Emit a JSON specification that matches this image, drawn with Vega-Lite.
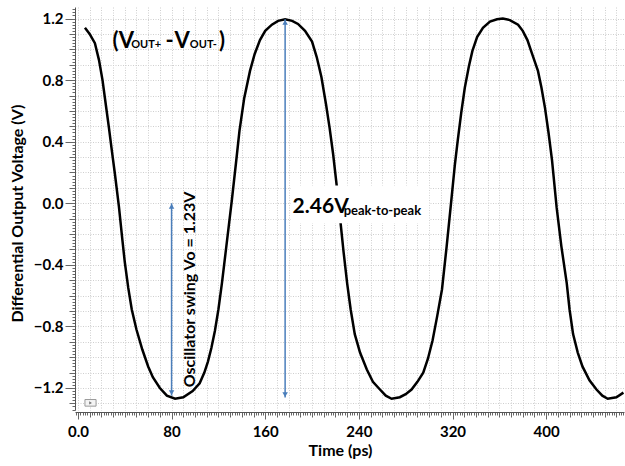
{
  "$schema": "https://vega.github.io/schema/vega-lite/v6.json",
  "width": 549,
  "height": 403,
  "autosize": {"type": "none"},
  "padding": {"left": 75, "top": 7, "right": 1, "bottom": 56},
  "background": "white",
  "config": {
    "view": {"stroke": null},
    "font": "Lato",
    "axis": {
      "labelFont": "Lato", "titleFont": "Lato",
      "labelFontWeight": "bold", "titleFontWeight": "bold",
      "labelColor": "#000", "titleColor": "#000",
      "domainColor": "#555", "tickColor": "#666"
    }
  },
  "datasets": {
    "curve": [
      {"t": 6, "v": 1.14}, {"t": 10, "v": 1.10}, {"t": 14.5, "v": 1.04}, {"t": 18, "v": 0.93},
      {"t": 21, "v": 0.80}, {"t": 24, "v": 0.63}, {"t": 26.5, "v": 0.49}, {"t": 29, "v": 0.34},
      {"t": 31.6, "v": 0.19}, {"t": 35, "v": -0.02}, {"t": 38, "v": -0.24}, {"t": 40, "v": -0.38},
      {"t": 43, "v": -0.55}, {"t": 46, "v": -0.69}, {"t": 50, "v": -0.82}, {"t": 55, "v": -0.95},
      {"t": 60, "v": -1.06}, {"t": 64, "v": -1.13}, {"t": 70, "v": -1.20}, {"t": 76, "v": -1.25},
      {"t": 83, "v": -1.27}, {"t": 90, "v": -1.26}, {"t": 98, "v": -1.22}, {"t": 104, "v": -1.17},
      {"t": 108, "v": -1.10}, {"t": 111, "v": -1.03}, {"t": 114, "v": -0.94}, {"t": 117, "v": -0.83},
      {"t": 120, "v": -0.69}, {"t": 123, "v": -0.52}, {"t": 126, "v": -0.33},
      {"t": 131.5, "v": 0.02}, {"t": 135, "v": 0.26}, {"t": 138, "v": 0.47}, {"t": 142, "v": 0.68},
      {"t": 147, "v": 0.86}, {"t": 151, "v": 0.97}, {"t": 155.5, "v": 1.06}, {"t": 160, "v": 1.12},
      {"t": 165.7, "v": 1.16}, {"t": 171, "v": 1.185}, {"t": 177, "v": 1.195}, {"t": 183, "v": 1.185},
      {"t": 188, "v": 1.165}, {"t": 194, "v": 1.12}, {"t": 200, "v": 1.05}, {"t": 204, "v": 0.95},
      {"t": 208, "v": 0.82}, {"t": 212, "v": 0.64}, {"t": 215, "v": 0.49}, {"t": 218, "v": 0.32},
      {"t": 221, "v": 0.12}, {"t": 224, "v": -0.10}, {"t": 227, "v": -0.32}, {"t": 230, "v": -0.52},
      {"t": 233, "v": -0.69}, {"t": 236.5, "v": -0.85}, {"t": 241, "v": -0.97}, {"t": 246.8, "v": -1.08},
      {"t": 252, "v": -1.16}, {"t": 258, "v": -1.21}, {"t": 263, "v": -1.25}, {"t": 268, "v": -1.27},
      {"t": 275, "v": -1.26}, {"t": 280, "v": -1.24}, {"t": 285, "v": -1.21}, {"t": 290, "v": -1.16},
      {"t": 295, "v": -1.10}, {"t": 299, "v": -1.01}, {"t": 303, "v": -0.89}, {"t": 307, "v": -0.73},
      {"t": 311, "v": -0.56}, {"t": 315, "v": -0.28}, {"t": 319, "v": 0.02}, {"t": 322, "v": 0.25},
      {"t": 324.5, "v": 0.41}, {"t": 327.5, "v": 0.59}, {"t": 330.5, "v": 0.75}, {"t": 334, "v": 0.89},
      {"t": 337, "v": 0.99}, {"t": 341, "v": 1.08}, {"t": 346, "v": 1.14}, {"t": 352, "v": 1.18},
      {"t": 358, "v": 1.195}, {"t": 363, "v": 1.20}, {"t": 369, "v": 1.19}, {"t": 376, "v": 1.16},
      {"t": 380, "v": 1.12}, {"t": 384, "v": 1.06}, {"t": 388, "v": 0.97}, {"t": 393, "v": 0.86},
      {"t": 396, "v": 0.75}, {"t": 399, "v": 0.62}, {"t": 402, "v": 0.46}, {"t": 405, "v": 0.28},
      {"t": 409, "v": -0.03}, {"t": 413, "v": -0.28}, {"t": 417.6, "v": -0.52}, {"t": 420, "v": -0.69},
      {"t": 423, "v": -0.85}, {"t": 427, "v": -0.97}, {"t": 431, "v": -1.06}, {"t": 437, "v": -1.15},
      {"t": 443, "v": -1.21}, {"t": 448, "v": -1.25}, {"t": 452.6, "v": -1.27}, {"t": 460, "v": -1.26},
      {"t": 466, "v": -1.23}
    ],
    "arrows": [
      {"t": 80, "top": 0.0, "bot": -1.25},
      {"t": 177, "top": 1.195, "bot": -1.262}
    ],
    "box": [{"t1": 182, "t2": 300, "v1": 0.115, "v2": -0.13}],
    "icon": [{"t1": 6, "t2": 15.5, "v1": -1.275, "v2": -1.318, "tc": 10.8, "vc": -1.297}],
    "bigText": [
      {"t": 29.6, "v": 1.008, "label": "(V"},
      {"t": 74.8, "v": 1.008, "label": "-"},
      {"t": 82.6, "v": 1.008, "label": "V"},
      {"t": 120.5, "v": 1.008, "label": ")"}
    ],
    "subText": [
      {"t": 45.5, "v": 1.008, "label": "OUT+"},
      {"t": 95.6, "v": 1.008, "label": "OUT-"}
    ],
    "ppText": [{"t": 183.4, "v": -0.065, "label": "2.46V"}],
    "ppSub": [{"t": 227, "v": -0.078, "label": "peak-to-peak"}],
    "swing": [{"t": 96, "v": -0.56, "label": "Oscillator swing Vo = 1.23V"}]
  },
  "layer": [
    {
      "data": {"name": "curve"},
      "mark": {"type": "point", "opacity": 0},
      "encoding": {
        "x": {"field": "t", "type": "quantitative", "scale": {"domain": [-2.5, 466.5], "nice": false, "zero": false},
          "axis": {"orient": "bottom", "offset": 2, "tickCount": 47, "grid": true, "gridColor": "#cfcfcf", "gridDash": [1, 1.5], "gridWidth": 1, "labels": false, "domain": false, "tickSize": 5, "title": null}},
        "y": {"field": "v", "type": "quantitative", "scale": {"domain": [-1.343, 1.275], "nice": false, "zero": false},
          "axis": {"orient": "left", "tickCount": 26, "grid": true, "gridColor": "#cfcfcf", "gridDash": [1, 1.5], "gridWidth": 1, "labels": false, "domain": false, "tickSize": 6, "title": null}}
      }
    },
    {
      "data": {"name": "curve"},
      "mark": {"type": "point", "opacity": 0},
      "encoding": {
        "x": {"field": "t", "type": "quantitative",
          "axis": {"orient": "bottom", "offset": 2, "tickCount": 234, "grid": false, "labels": false, "domain": false, "tickSize": 3, "title": null}},
        "y": {"field": "v", "type": "quantitative",
          "axis": {"orient": "left", "tickCount": 131, "grid": false, "labels": false, "domain": false, "tickSize": 3, "title": null}}
      }
    },
    {
      "data": {"name": "curve"},
      "mark": {"type": "line", "color": "#000", "strokeWidth": 2.5},
      "encoding": {
        "x": {"field": "t", "type": "quantitative",
          "axis": {"orient": "bottom", "offset": 2, "values": [0, 80, 160, 240, 320, 400], "grid": false,
            "labelExpr": "datum.value == 0 ? '0.0' : datum.label", "labelFlush": false, "labelOverlap": false,
            "labelFontSize": 15, "labelPadding": 5, "tickSize": 7, "domainWidth": 1,
            "title": "Time (ps)", "titleFontSize": 16, "titleX": 265, "titleY": 30, "titleBaseline": "top", "titleAlign": "center"}},
        "y": {"field": "v", "type": "quantitative",
          "axis": {"orient": "left", "values": [-1.2, -0.8, -0.4, 0, 0.4, 0.8, 1.2], "format": ".1f", "grid": false,
            "labelFlush": false, "labelOverlap": false, "labelFontSize": 15, "labelPadding": 2, "tickSize": 10, "domainWidth": 1,
            "title": "Differential Output Voltage (V)", "titleFontSize": 16, "titleX": -58, "titleY": 206, "titleBaseline": "middle", "titleAlign": "center", "titleAngle": -90}}
      }
    },
    {
      "data": {"name": "box"},
      "mark": {"type": "rect", "fill": "white"},
      "encoding": {
        "x": {"field": "t1", "type": "quantitative", "axis": null},
        "x2": {"field": "t2"},
        "y": {"field": "v1", "type": "quantitative", "axis": null},
        "y2": {"field": "v2"}
      }
    },
    {
      "data": {"name": "icon"},
      "mark": {"type": "rect", "fill": "#f4f4f4", "stroke": "#999", "strokeWidth": 1},
      "encoding": {
        "x": {"field": "t1", "type": "quantitative", "axis": null},
        "x2": {"field": "t2"},
        "y": {"field": "v1", "type": "quantitative", "axis": null},
        "y2": {"field": "v2"}
      }
    },
    {
      "data": {"name": "icon"},
      "mark": {"type": "point", "shape": "triangle-right", "filled": true, "color": "#777", "size": 10, "opacity": 1},
      "encoding": {
        "x": {"field": "tc", "type": "quantitative", "axis": null},
        "y": {"field": "vc", "type": "quantitative", "axis": null}
      }
    },
    {
      "data": {"name": "arrows"},
      "mark": {"type": "rule", "color": "#4a7ebb", "strokeWidth": 1.5},
      "encoding": {
        "x": {"field": "t", "type": "quantitative", "axis": null},
        "y": {"field": "top", "type": "quantitative", "axis": null},
        "y2": {"field": "bot"}
      }
    },
    {
      "data": {"name": "arrows"},
      "mark": {"type": "point", "shape": "triangle-up", "filled": true, "color": "#4a7ebb", "size": 30, "opacity": 1, "yOffset": 3},
      "encoding": {
        "x": {"field": "t", "type": "quantitative", "axis": null},
        "y": {"field": "top", "type": "quantitative", "axis": null}
      }
    },
    {
      "data": {"name": "arrows"},
      "mark": {"type": "point", "shape": "triangle-down", "filled": true, "color": "#4a7ebb", "size": 30, "opacity": 1, "yOffset": -3},
      "encoding": {
        "x": {"field": "t", "type": "quantitative", "axis": null},
        "y": {"field": "bot", "type": "quantitative", "axis": null}
      }
    },
    {
      "data": {"name": "bigText"},
      "mark": {"type": "text", "font": "Lato", "fontWeight": "bold", "fontSize": 22, "align": "left", "baseline": "alphabetic", "color": "#000"},
      "encoding": {
        "x": {"field": "t", "type": "quantitative", "axis": null},
        "y": {"field": "v", "type": "quantitative", "axis": null},
        "text": {"field": "label"}
      }
    },
    {
      "data": {"name": "subText"},
      "mark": {"type": "text", "font": "Lato", "fontWeight": "bold", "fontSize": 11, "align": "left", "baseline": "alphabetic", "color": "#000"},
      "encoding": {
        "x": {"field": "t", "type": "quantitative", "axis": null},
        "y": {"field": "v", "type": "quantitative", "axis": null},
        "text": {"field": "label"}
      }
    },
    {
      "data": {"name": "ppText"},
      "mark": {"type": "text", "font": "Lato", "fontWeight": "bold", "fontSize": 21, "align": "left", "baseline": "alphabetic", "color": "#000"},
      "encoding": {
        "x": {"field": "t", "type": "quantitative", "axis": null},
        "y": {"field": "v", "type": "quantitative", "axis": null},
        "text": {"field": "label"}
      }
    },
    {
      "data": {"name": "ppSub"},
      "mark": {"type": "text", "font": "Lato", "fontWeight": "bold", "fontSize": 13, "align": "left", "baseline": "alphabetic", "color": "#000"},
      "encoding": {
        "x": {"field": "t", "type": "quantitative", "axis": null},
        "y": {"field": "v", "type": "quantitative", "axis": null},
        "text": {"field": "label"}
      }
    },
    {
      "data": {"name": "swing"},
      "mark": {"type": "text", "font": "Lato", "fontWeight": "bold", "fontSize": 16, "angle": 270, "align": "center", "baseline": "middle", "color": "#000"},
      "encoding": {
        "x": {"field": "t", "type": "quantitative", "axis": null},
        "y": {"field": "v", "type": "quantitative", "axis": null},
        "text": {"field": "label"}
      }
    }
  ],
  "resolve": {"axis": {"x": "independent", "y": "independent"}}
}
